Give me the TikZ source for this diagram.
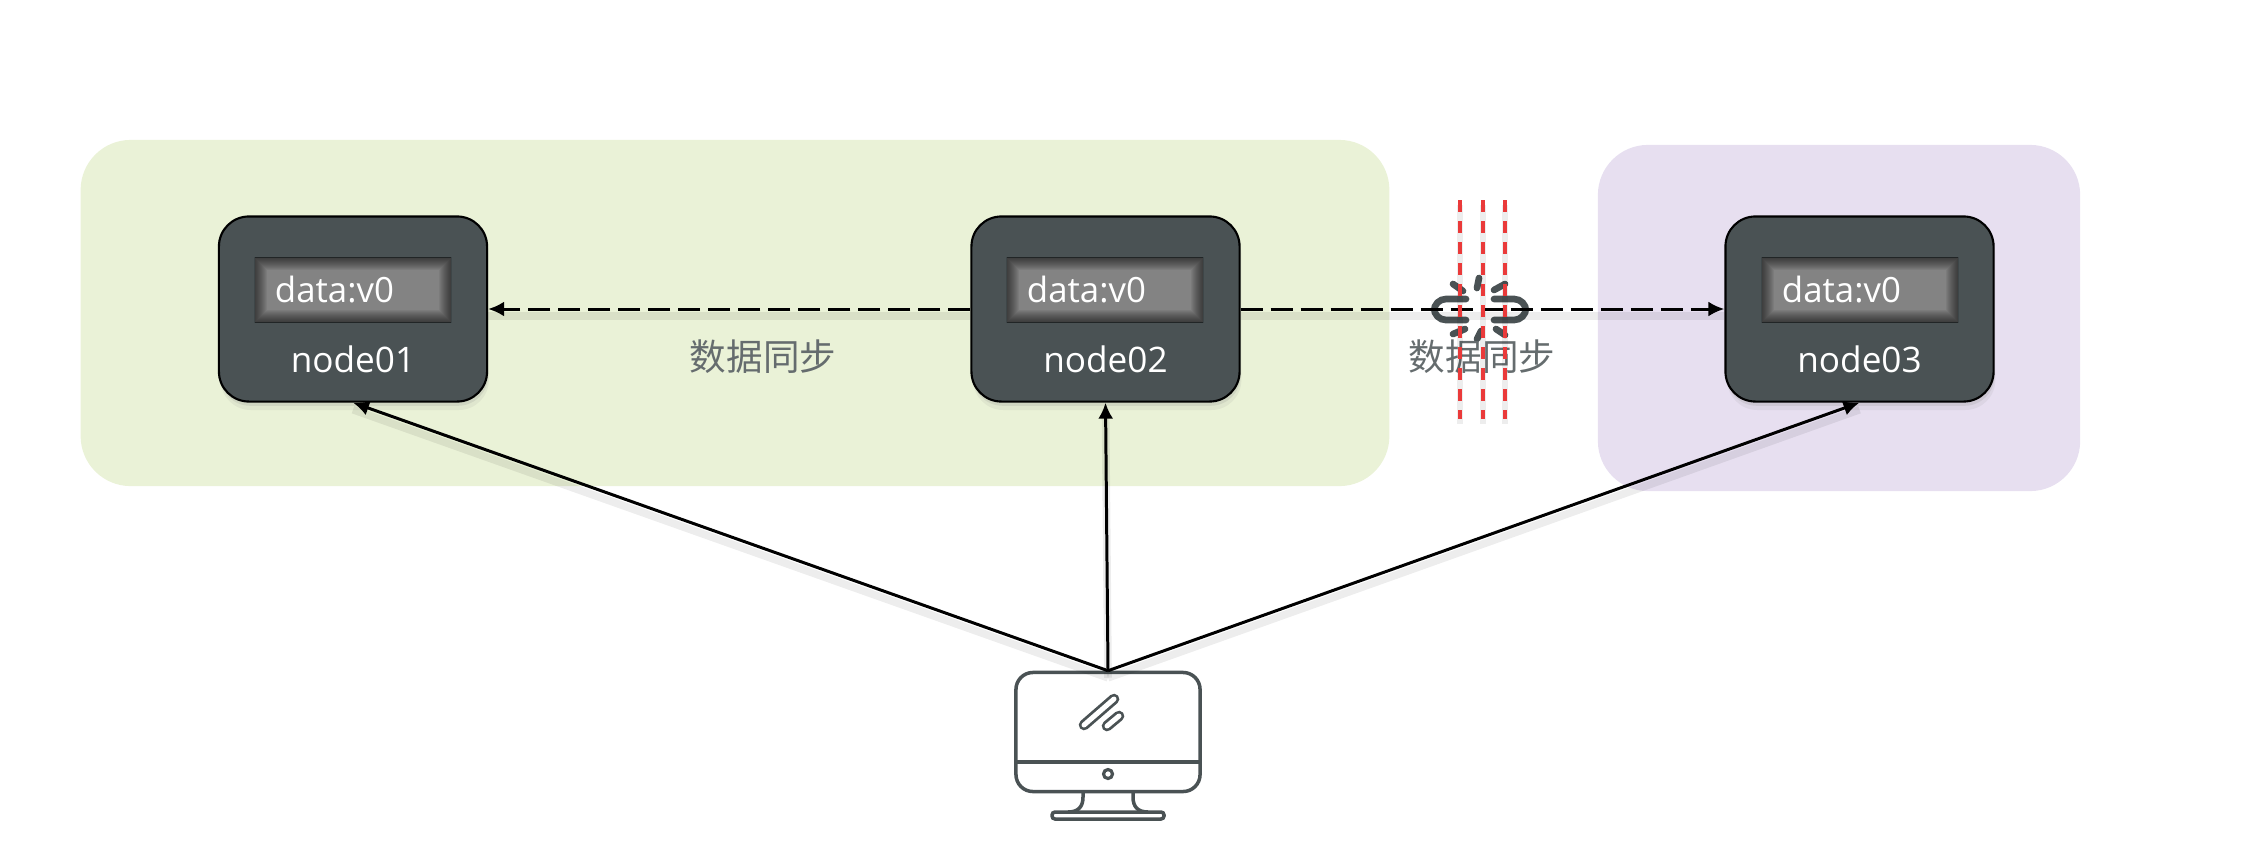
\documentclass[tikz,border=0pt]{standalone}
\usepackage{fontspec}
\setmainfont{Open Sans}
\newfontfamily\cjk{Noto Sans CJK SC}
\usetikzlibrary{shadows,arrows.meta}

\definecolor{slate}{HTML}{4A5254}
\definecolor{panelgreen}{HTML}{EAF2D7}
\definecolor{panelpurple}{HTML}{E7DFF0}
\definecolor{linkred}{HTML}{EA3A3A}
\definecolor{datagray}{HTML}{838383}

\begin{document}
\begin{tikzpicture}[x=.01cm,y=-.01cm,>={Latex[length=.16cm,width=.15cm]},
    panel/.style={rounded corners=.5cm,minimum height=3.46cm},
    server/.style={draw=black,line width=.6pt,fill=slate,rounded corners=.3cm,minimum width=2.68cm,minimum height=1.85cm,
      drop shadow={opacity=.1,shadow xshift=.5pt,shadow yshift=-2.4pt},
      drop shadow={opacity=.16,shadow xshift=.3pt,shadow yshift=-1.2pt}},
    databox/.style={fill=datagray,text=white,font=\fontsize{9.9}{12}\selectfont,minimum height=.64cm,inner xsep=.2cm,inner ysep=0pt,text width=1.56cm,align=left,
      path picture={
        \foreach \glow in {1,...,12}
          \draw[black,opacity=.055,line width=\glow*.02cm] (path picture bounding box.north west) rectangle (path picture bounding box.south east);
      }},
    servername/.style={text=white,font=\fontsize{10}{12}\selectfont,inner sep=0pt},
    synclabel/.style={text=slate!85,font=\cjk\fontsize{10.4}{12}\selectfont,inner sep=0pt},
    softline/.style={preaction={draw=black,arrows=-,opacity=.07,line width=2.2pt,transform canvas={yshift=-2pt}}},
    syncline/.style={->,line width=.85pt,dash pattern=on .22cm off .08cm,softline},
    request/.style={->,line width=.85pt,softline},
    cutline/.style={linkred,line width=.95pt,dash pattern=on .12cm off .09cm,preaction={draw=black,opacity=.07,line width=1.8pt,transform canvas={yshift=-1.5pt}}},
    linkpart/.style={slate,line width=1.9pt,line cap=round},
    screen/.style={draw=slate,line width=1pt,rounded corners=.17cm,minimum width=1.84cm,minimum height=1.19cm}]
  \useasboundingbox (0,0) rectangle (2246,845);

  \node[panel,fill=panelgreen,minimum width=13.08cm] (zoneA) at (735,313) {};
  \node[panel,fill=panelpurple,minimum width=4.82cm] (zoneB) at (1839,318) {};

  \foreach[count=\i] \cx/\dx in {353/353,1105.5/1105,1859.5/1860} {
    \node[server] (node0\i) at (\cx,309) {};
    \node[databox] (data\i) at (\dx,290) {data:v0};
    \node[servername] (name\i) at (\cx,359) {node0\i};
  }

  % broken link
  \draw[linkpart,rounded corners=.12cm] (1466,299) -| (1434,320) -- (1466,320);
  \draw[linkpart,rounded corners=.12cm] (1494,299) -| (1526,320) -- (1494,320);
  \foreach \xa/\ya/\xb/\yb in {1453/284/1463/291,1479/278/1477/288,1505/284/1494/290,1453/334/1465/329,1481/331/1477/339,1496/329/1505/335} {
    \draw[linkpart] (\xa,\ya) -- (\xb,\yb);
  }

  \draw[syncline] (node02.west) -- (node01.east);
  \draw[syncline] (node02.east) -- (node03.west);

  \node[synclabel] (syncA) at (763,357) {数据同步};
  \node[synclabel] (syncB) at (1482,357) {数据同步};

  \foreach \x in {1460,1483,1505} {
    \draw[cutline] (\x,200) -- (\x,419);
  }

  % client
  \node[screen] (client) at (1108,732) {};
  \draw[slate,line width=.9pt] (1016,762) -- (1200,762);
  \draw[slate,line width=.9pt] (1108,774) circle (.045cm);
  \draw[slate,line width=1pt] (1083,792) -- (1083,797) .. controls (1083,807) and (1078,812) .. (1068,812);
  \draw[slate,line width=1pt] (1133,792) -- (1133,797) .. controls (1133,807) and (1138,812) .. (1148,812);
  \draw[slate,line width=1pt,rounded corners=.03cm] (1052,812) rectangle (1164,819);
  \draw[slate,line width=.8pt,double=white,double distance=.05cm,line cap=round] (1084,725) -- (1114,699);
  \draw[slate,line width=.8pt,double=white,double distance=.05cm,line cap=round] (1107,726) -- (1119,716);

  \draw[request] (client.north) -- (node01.south);
  \draw[request] (client.north) -- (node02.south);
  \draw[request] (client.north) -- (node03.south);
\end{tikzpicture}
\end{document}
